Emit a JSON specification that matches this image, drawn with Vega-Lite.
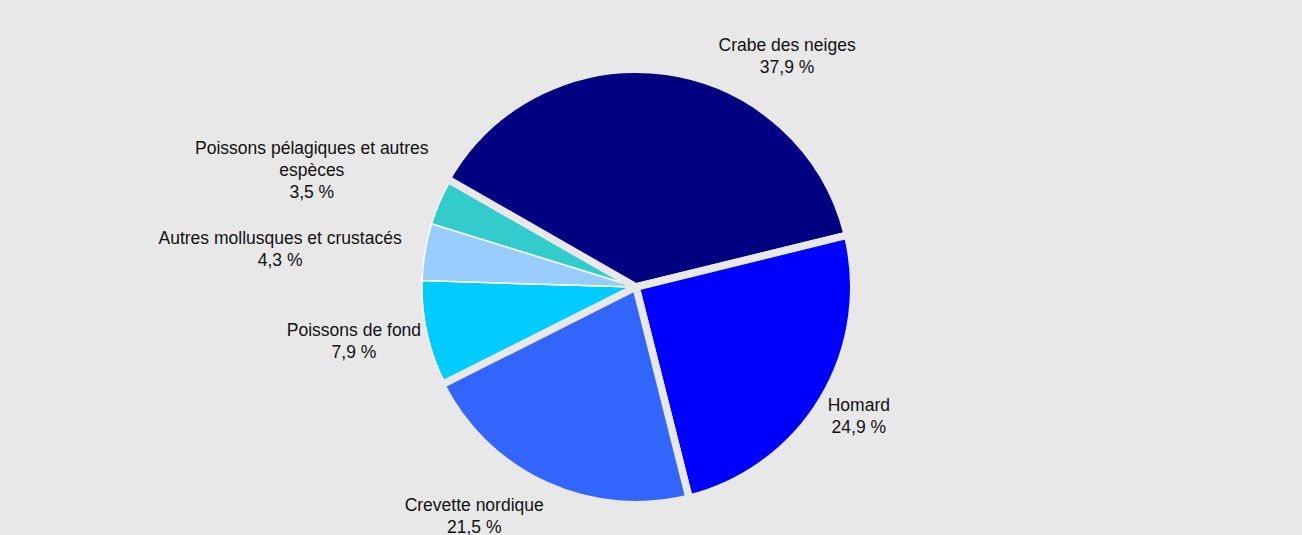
{
  "$schema": "https://vega.github.io/schema/vega-lite/v6.json",
  "autosize": "none",
  "width": 1242,
  "height": 496,
  "padding": {"left": 15, "right": 45, "top": 39, "bottom": 0},
  "background": "#e8e8e8",
  "config": {"view": {"stroke": null}},
  "data": {
    "values": [
      {"categorie": "Crabe des neiges", "part": 37.9, "ordre": 1, "etiquette": "Crabe des neiges\n37,9 %"},
      {"categorie": "Homard", "part": 24.9, "ordre": 2, "etiquette": "Homard\n24,9 %"},
      {"categorie": "Crevette nordique", "part": 21.5, "ordre": 3, "etiquette": "Crevette nordique\n21,5 %"},
      {"categorie": "Poissons de fond", "part": 7.9, "ordre": 4, "etiquette": "Poissons de fond\n7,9 %"},
      {"categorie": "Autres mollusques et crustacés", "part": 4.3, "ordre": 5, "etiquette": "Autres mollusques et crustacés\n4,3 %"},
      {"categorie": "Poissons pélagiques et autres espèces", "part": 3.5, "ordre": 6, "etiquette": "Poissons pélagiques et autres\nespèces\n3,5 %"}
    ]
  },
  "encoding": {
    "theta": {"field": "part", "type": "quantitative", "stack": true, "scale": {"domain": [0, 100], "range": [-1.0507, 5.2325]}},
    "order": {"field": "ordre", "type": "quantitative", "sort": "ascending"}
  },
  "layer": [
    {
      "mark": {"type": "arc", "outerRadius": 214, "innerRadius": 0, "stroke": "#ffffff", "strokeWidth": 1.5, "strokeJoin": "round"},
      "encoding": {
        "color": {"field": "categorie", "type": "nominal", "legend": null,
          "scale": {"domain": ["Crabe des neiges", "Homard", "Crevette nordique", "Poissons de fond", "Autres mollusques et crustacés", "Poissons pélagiques et autres espèces"],
                    "range": ["#000080", "#0000ff", "#3366ff", "#00ccff", "#99ccff", "#33cccc"]}},
        "opacity": {"condition": {"test": "datum.ordre >= 4", "value": 1}, "value": 0}
      }
    },
    {
      "mark": {"type": "arc", "outerRadius": 217.75, "innerRadius": 0, "stroke": "#e8e8e8", "strokeWidth": 7.5, "strokeJoin": "round"},
      "encoding": {
        "color": {"field": "categorie", "type": "nominal", "legend": null},
        "opacity": {"condition": {"test": "datum.ordre <= 3", "value": 1}, "value": 0}
      }
    },
    {
      "mark": {"type": "text", "radius": 284.6, "thetaOffset": 0.4196, "font": "Liberation Sans", "fontSize": 17.5, "lineHeight": 22, "lineBreak": "\n", "align": "center", "baseline": "middle", "color": "#111111"},
      "encoding": {"detail": {"field": "categorie"}, "text": {"condition": {"test": "datum.ordre === 1", "field": "etiquette"}, "value": ""}}
    },
    {
      "mark": {"type": "text", "radius": 252.6, "thetaOffset": -0.0518, "font": "Liberation Sans", "fontSize": 17.5, "lineHeight": 22, "lineBreak": "\n", "align": "center", "baseline": "middle", "color": "#111111"},
      "encoding": {"detail": {"field": "categorie"}, "text": {"condition": {"test": "datum.ordre === 2", "field": "etiquette"}, "value": ""}}
    },
    {
      "mark": {"type": "text", "radius": 271.9, "thetaOffset": 0.2084, "font": "Liberation Sans", "fontSize": 17.5, "lineHeight": 22, "lineBreak": "\n", "align": "center", "baseline": "middle", "color": "#111111"},
      "encoding": {"detail": {"field": "categorie"}, "text": {"condition": {"test": "datum.ordre === 3", "field": "etiquette"}, "value": ""}}
    },
    {
      "mark": {"type": "text", "radius": 285.5, "thetaOffset": 0.0625, "font": "Liberation Sans", "fontSize": 17.5, "lineHeight": 22, "lineBreak": "\n", "align": "center", "baseline": "middle", "color": "#111111"},
      "encoding": {"detail": {"field": "categorie"}, "text": {"condition": {"test": "datum.ordre === 4", "field": "etiquette"}, "value": ""}}
    },
    {
      "mark": {"type": "text", "radius": 359.1, "thetaOffset": -0.0321, "font": "Liberation Sans", "fontSize": 17.5, "lineHeight": 22, "lineBreak": "\n", "align": "center", "baseline": "middle", "color": "#111111"},
      "encoding": {"detail": {"field": "categorie"}, "text": {"condition": {"test": "datum.ordre === 5", "field": "etiquette"}, "value": ""}}
    },
    {
      "mark": {"type": "text", "radius": 352.3, "thetaOffset": -0.0082, "font": "Liberation Sans", "fontSize": 17.5, "lineHeight": 22, "lineBreak": "\n", "align": "center", "baseline": "middle", "color": "#111111"},
      "encoding": {"detail": {"field": "categorie"}, "text": {"condition": {"test": "datum.ordre === 6", "field": "etiquette"}, "value": ""}}
    }
  ]
}
